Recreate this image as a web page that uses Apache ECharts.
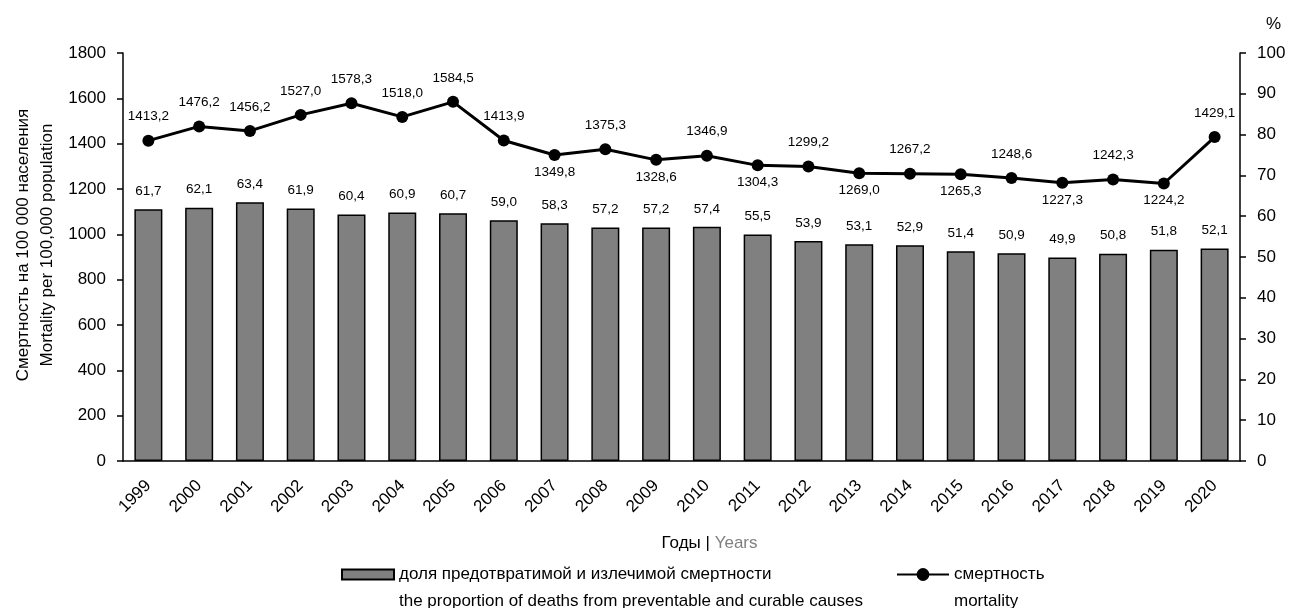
<!DOCTYPE html>
<html>
<head>
<meta charset="utf-8">
<script src="https://cdn.jsdelivr.net/npm/echarts@6/dist/echarts.min.js"></script>
<style>
  html, body { margin: 0; padding: 0; background: #ffffff; }
  #chart { width: 1289px; height: 608px; }
</style>
</head>
<body>
<div id="chart"></div>
<script>
// Years on the category axis
const years = ['1999', '2000', '2001', '2002', '2003', '2004', '2005', '2006', '2007', '2008', '2009',
               '2010', '2011', '2012', '2013', '2014', '2015', '2016', '2017', '2018', '2019', '2020'];

// Share of preventable and curable deaths, %
const sharePct = [61.7, 62.1, 63.4, 61.9, 60.4, 60.9, 60.7, 59.0, 58.3, 57.2, 57.2,
                  57.4, 55.5, 53.9, 53.1, 52.9, 51.4, 50.9, 49.9, 50.8, 51.8, 52.1];

// Mortality per 100 000 population
const mortality = [1413.2, 1476.2, 1456.2, 1527.0, 1578.3, 1518.0, 1584.5, 1413.9, 1349.8, 1375.3, 1328.6,
                   1346.9, 1304.3, 1299.2, 1269.0, 1267.2, 1265.3, 1248.6, 1227.3, 1242.3, 1224.2, 1429.1];

// Years whose mortality label sits under the point
const labelBelowYears = ['2007', '2009', '2011', '2013', '2015', '2017', '2019'];

const barName = 'доля предотвратимой и излечимой смертности\nthe proportion of deaths from preventable and curable causes';
const lineName = 'смертность\nmortality';

const FONT = 'Liberation Sans, Arial, sans-serif';
const fmt = v => v.toFixed(1).replace('.', ',');

const lineData = mortality.map((v, i) => {
  const below = labelBelowYears.includes(years[i]);
  return {
    value: v,
    label: below ? { position: 'bottom', distance: 4 } : { position: 'top', distance: 11 }
  };
});

// Legend entries: an empty first line keeps the icon level with the first text line
const legendText = { fontFamily: FONT, fontSize: 17, color: '#000', lineHeight: 27 };
const legendFormatter = name => '\n' + name;

const chart = echarts.init(document.getElementById('chart'), null, { renderer: 'canvas' });

chart.setOption({
  backgroundColor: '#ffffff',
  animation: false,
  textStyle: { fontFamily: FONT, color: '#000' },
  grid: { left: 123, right: 49, top: 53, bottom: 147, containLabel: false, outerBoundsMode: 'none' },
  legend: [
    {
      data: [{ name: barName, icon: 'rect' }],
      left: 336, top: 529,
      itemWidth: 52, itemHeight: 10,
      selectedMode: false,
      formatter: legendFormatter,
      textStyle: legendText,
      itemGap: 0
    },
    {
      data: [lineName],
      left: 891, top: 529,
      itemWidth: 52, itemHeight: 16,
      selectedMode: false,
      formatter: legendFormatter,
      textStyle: legendText,
      itemGap: 0
    }
  ],
  xAxis: {
    type: 'category',
    data: years,
    boundaryGap: true,
    axisLine: { show: true, lineStyle: { color: '#000', width: 1.5 } },
    axisTick: { show: false },
    axisLabel: { rotate: 45, margin: 22, fontSize: 17, color: '#000', fontFamily: FONT, interval: 0 },
    splitLine: { show: false },
    name: '{a|Годы | }{b|Years}',
    nameLocation: 'middle',
    nameGap: 74,
    nameMoveOverlap: false,
    nameTextStyle: {
      padding: [0, 0, 0, 56],
      rich: {
        a: { fontSize: 17, color: '#000', fontFamily: FONT },
        b: { fontSize: 17, color: '#7f7f7f', fontFamily: FONT }
      }
    }
  },
  yAxis: [
    {
      type: 'value',
      min: 0, max: 1800, interval: 200,
      position: 'left',
      axisLine: { show: true, lineStyle: { color: '#000', width: 1.5 } },
      axisTick: { show: true, inside: false, length: 6, lineStyle: { color: '#000', width: 1.5 } },
      axisLabel: { margin: 17, fontSize: 17, color: '#000', fontFamily: FONT, formatter: v => String(v) },
      splitLine: { show: false },
      name: 'Смертность на 100 000 населения\nMortality per 100,000 population',
      nameLocation: 'middle',
      nameRotate: 90,
      nameGap: 64,
      nameMoveOverlap: false,
      nameTextStyle: { fontSize: 17, lineHeight: 24, color: '#000', fontFamily: FONT, align: 'center', padding: [0, 0, 0, 24] }
    },
    {
      type: 'value',
      min: 0, max: 100, interval: 10,
      position: 'right',
      axisLine: { show: true, lineStyle: { color: '#000', width: 1.5 } },
      axisTick: { show: true, inside: false, length: 6, lineStyle: { color: '#000', width: 1.5 } },
      axisLabel: { margin: 17, fontSize: 17, color: '#000', fontFamily: FONT },
      splitLine: { show: false },
      name: '%',
      nameLocation: 'end',
      nameGap: 20,
      nameTextStyle: { fontSize: 17, color: '#000', fontFamily: FONT, align: 'left', padding: [0, 0, 0, 26] }
    }
  ],
  series: [
    {
      name: barName,
      type: 'bar',
      yAxisIndex: 1,
      data: sharePct,
      barWidth: 28,
      itemStyle: { color: '#808080', borderColor: '#000', borderWidth: 1.5 },
      label: {
        show: true, position: 'top', distance: 11,
        fontSize: 13.5, color: '#000', fontFamily: FONT,
        formatter: p => fmt(p.value)
      },
      z: 2
    },
    {
      name: lineName,
      type: 'line',
      yAxisIndex: 0,
      data: lineData,
      symbol: 'circle',
      symbolSize: 12,
      lineStyle: { color: '#000', width: 3 },
      itemStyle: { color: '#000' },
      label: {
        show: true,
        fontSize: 13.5, color: '#000', fontFamily: FONT,
        formatter: p => fmt(p.value)
      },
      z: 3
    }
  ]
});
</script>
</body>
</html>
